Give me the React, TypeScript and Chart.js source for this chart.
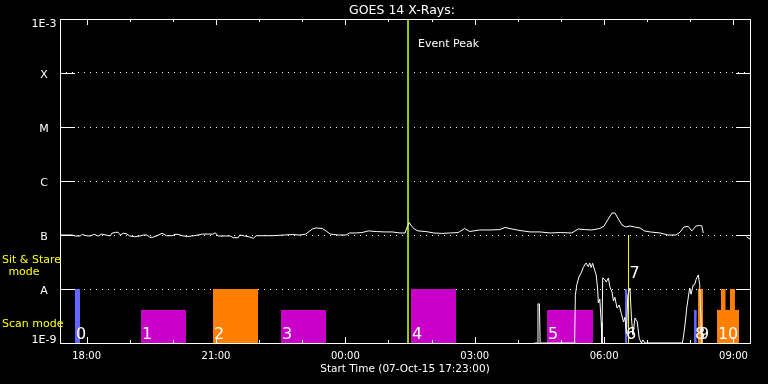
import React, { useEffect, useRef } from 'react';
import { Chart, registerables } from 'chart.js';

Chart.register(...registerables);

// ---------- text ----------
const CHART_TITLE = 'GOES 14 X-Rays:';
const X_AXIS_TITLE = 'Start Time (07-Oct-15 17:23:00)';
const EVENT_LABEL = 'Event Peak';
const STARE_TEXT = ['Sit & Stare', 'mode'];
const SCAN_TEXT = 'Scan mode';

// ---------- axes (x in minutes since 17:23) ----------
const X_MAX_MINUTES = 960;
const hourTickMinutes = [37, 97, 157, 217, 277, 337, 397, 457, 517, 577, 637, 697, 757, 817, 877, 937];
const hourTickLabels = ['18:00', '', '', '21:00', '', '', '00:00', '', '', '03:00', '', '', '06:00', '', '', '09:00'];
const yLevelValues = [1e-9, 1e-8, 1e-7, 1e-6, 1e-5, 1e-4, 1e-3];
const yLevelLabels = ['1E-9', 'A', 'B', 'C', 'M', 'X', '1E-3'];

// ---------- GOES flux curve ----------
const fluxTimes = [
  0, 17, 21, 28, 31, 36, 42, 47, 53, 58, 64, 70, 72, 77, 81, 84, 88, 92, 97, 104,
  111, 116, 121, 125, 129, 135, 142, 148, 156, 160, 164, 170, 178, 186, 192, 198, 206, 213, 216, 220,
  230, 237, 241, 248, 250, 257, 264, 269, 273, 281, 292, 301, 312, 323, 334, 342, 351, 356, 365, 370,
  376, 387, 398, 403, 412, 420, 429, 440, 451, 462, 473, 480, 483, 486, 488, 493, 498, 509, 520, 531,
  543, 554, 563, 570, 584, 598, 612, 619, 629, 640, 654, 668, 682, 696, 712, 721, 730, 740, 751, 757,
  762, 768, 772, 776, 782, 787, 793, 799, 807, 813, 821, 835, 846, 857, 863, 868, 874, 879, 885, 890,
  893, 895, 925, 955, 960,
];
const fluxValues = [
  1.0e-7, 1.0e-7, 9.58e-8, 9.58e-8, 1.03e-7, 9.7e-8, 9.58e-8, 1.03e-7, 9.58e-8, 1.04e-7, 1.0e-7, 9.58e-8, 1.075e-7, 1.12e-7, 1.12e-7, 1.0e-7, 1.075e-7, 1.066e-7, 9.58e-8, 9.3e-8,
  9.58e-8, 1.0e-7, 1.0e-7, 9.07e-8, 9.07e-8, 9.7e-8, 1.075e-7, 9.7e-8, 9.7e-8, 1.03e-7, 1.03e-7, 9.7e-8, 9.38e-8, 9.7e-8, 1.0e-7, 1.04e-7, 1.04e-7, 1.04e-7, 1.1e-7, 9.58e-8,
  9.58e-8, 9.58e-8, 8.91e-8, 8.91e-8, 1.0e-7, 9.58e-8, 9.18e-8, 8.68e-8, 9.7e-8, 9.7e-8, 9.7e-8, 9.8e-8, 1.0e-7, 1.02e-7, 1.0e-7, 1.04e-7, 1.29e-7, 1.35e-7, 1.32e-7, 1.19e-7,
  1.04e-7, 1.0e-7, 1.0e-7, 1.09e-7, 1.09e-7, 1.11e-7, 1.19e-7, 1.16e-7, 1.14e-7, 1.14e-7, 1.09e-7, 1.09e-7, 1.41e-7, 1.7e-7, 1.53e-7, 1.29e-7, 1.19e-7, 1.16e-7, 1.09e-7, 1.07e-7,
  1.09e-7, 1.11e-7, 1.32e-7, 1.16e-7, 1.24e-7, 1.24e-7, 1.26e-7, 1.38e-7, 1.29e-7, 1.21e-7, 1.14e-7, 1.14e-7, 1.09e-7, 1.11e-7, 1.09e-7, 1.29e-7, 1.26e-7, 1.24e-7, 1.32e-7, 1.47e-7,
  1.9e-7, 2.56e-7, 2.56e-7, 2.07e-7, 1.53e-7, 1.41e-7, 1.47e-7, 1.41e-7, 1.35e-7, 1.19e-7, 1.14e-7, 1.09e-7, 1.0e-7, 1.0e-7, 1.14e-7, 1.41e-7, 1.44e-7, 1.19e-7, 1.47e-7, 1.5e-7,
  1.47e-7, 1.09e-7, null, 9.3e-8, 8.4e-8,
];

// ---------- low-level trace ----------
const lowTimes = [
  660, 664, 665, 667, 668, 716, 717, 719, 722, 725, 728, 730, 732, 735, 737, 739, 741, 744, 746, 748,
  749, 751, 753, 754, 755, 758, 760, 763, 765, 768, 770, 772, 775, 778, 781, 784, 786, 788, 790, 793,
  795, 797, 800, 803, 806, 809, 811, 814, 866, 868, 870, 872, 874, 876, 878, 881, 883, 885, 888, 890,
  891, 893,
];
const lowValues = [
  1e-9, 1e-9, 5.3e-9, 5.3e-9, 1e-9, 1e-9, 7.7e-9, 1.2e-8, 1.67e-8, 1.98e-8, 2.5e-8, 2.78e-8, 3.03e-8, 2.6e-8, 3.03e-8, 2.5e-8, 3.0e-8, 2.2e-8, 1.82e-8, 1.0e-8,
  5.5e-9, 6.5e-9, 2.4e-9, 1e-9, 1.6e-8, 1.5e-8, 1.35e-8, 1.6e-8, 1.1e-8, 8.8e-9, 6.0e-9, 7.0e-9, 4.45e-9, 5.06e-9, 3.5e-9, 2.45e-9, 3.0e-9, 1.5e-9, 7.7e-9, 1.04e-8,
  3.0e-9, 1.4e-9, 2.9e-9, 2.5e-9, 1.2e-9, 1.0e-9, 1.14e-9, 1e-9, 1e-9, 1.5e-9, 2.45e-9, 4.5e-9, 6.8e-9, 1.04e-8, 8.0e-9, 1.19e-8, 1.2e-8, 1.5e-8, 1.82e-8, 1.2e-8,
  5.0e-9, 1e-9,
];

// ---------- observation blocks ----------
const STARE_LEVEL = 1e-8;
const SCAN_LEVEL = 4.1e-9;
const obsStart = [20.9, 112.7, 212.9, 307.5, 488.3, 677.6, 786.0, 882.0, 887.6, 914.0, 919.6, 932.0];
const obsEnd = [27.8, 175.3, 275.5, 370.1, 551.0, 741.6, 789.5, 886.0, 894.6, 944.7, 926.2, 939.0];
const obsKind = [0, 1, 2, 1, 1, 1, 0, 0, 2, 2, 2, 2];
const obsMode = ['stare', 'scan', 'stare', 'scan', 'stare', 'scan', 'stare', 'scan', 'stare', 'scan', 'stare', 'stare'];
const obsLabel = ['0', '1', '2', '3', '4', '5', '6', '8', '9', '10', '', ''];

const eventPeakTime = 484.2;
const markerTime = 791;
const markerTop = 1e-7;
const markerLabel = '7';

// ---------- styles ----------
const KIND_COLORS = ['#6464ff', '#c800c8', '#ff8000'];
const FONT = '"DejaVu Sans", sans-serif';

const overlayPlugin = {
  id: 'overlay',
  beforeDraw(chart: any) {
    const { ctx, width, height } = chart;
    ctx.save();
    ctx.fillStyle = '#000';
    ctx.fillRect(0, 0, width, height);
    ctx.restore();
  },
  afterDraw(chart: any) {
    const { ctx, chartArea: a } = chart;
    const xs = chart.scales.x;
    const ys = chart.scales.y;
    ctx.save();
    ctx.strokeStyle = '#fff';
    ctx.lineWidth = 1;
    ctx.strokeRect(a.left + 0.5, a.top + 0.5, a.right - a.left, a.bottom - a.top);
    ctx.beginPath();
    hourTickMinutes.forEach((t, i) => {
      const px = Math.round(xs.getPixelForValue(t)) + 0.5;
      const len = hourTickLabels[i] ? 6 : 3;
      ctx.moveTo(px, a.bottom);
      ctx.lineTo(px, a.bottom - len);
      ctx.moveTo(px, a.top);
      ctx.lineTo(px, a.top + len);
    });
    yLevelValues.forEach((v, i) => {
      if (i === 0 || i === yLevelValues.length - 1) return;
      const py = Math.round(ys.getPixelForValue(v)) + 0.5;
      ctx.moveTo(a.left, py);
      ctx.lineTo(a.left + 15, py);
      ctx.moveTo(a.right + 1, py);
      ctx.lineTo(a.right - 14, py);
    });
    ctx.stroke();

    ctx.fillStyle = '#fff';
    ctx.textBaseline = 'alphabetic';
    ctx.font = `12.5px ${FONT}`;
    ctx.textAlign = 'center';
    ctx.fillText(CHART_TITLE, (a.left + a.right) / 2 - 3, 14);
    ctx.font = `11px ${FONT}`;
    yLevelValues.forEach((v, i) => {
      const py = ys.getPixelForValue(v);
      const base = Math.min(Math.max(py + 5, a.top + 8), a.bottom);
      ctx.fillText(yLevelLabels[i], a.left - 16, base);
    });
    ctx.font = `10px ${FONT}`;
    hourTickMinutes.forEach((t, i) => {
      if (!hourTickLabels[i]) return;
      ctx.fillText(hourTickLabels[i], xs.getPixelForValue(t), a.bottom + 16);
    });
    ctx.font = `10.5px ${FONT}`;
    ctx.fillText(X_AXIS_TITLE, (a.left + a.right) / 2, a.bottom + 29);
    ctx.textAlign = 'left';
    ctx.font = `11px ${FONT}`;
    ctx.fillText(EVENT_LABEL, xs.getPixelForValue(eventPeakTime) + 10, a.top + 28);
    ctx.fillStyle = '#ffff00';
    ctx.fillText(STARE_TEXT[0], 2, ys.getPixelForValue(STARE_LEVEL) - 26);
    ctx.textAlign = 'center';
    ctx.fillText(STARE_TEXT[1], 24, ys.getPixelForValue(STARE_LEVEL) - 14);
    ctx.textAlign = 'left';
    ctx.fillText(SCAN_TEXT, 2, ys.getPixelForValue(SCAN_LEVEL) + 17);
    ctx.fillStyle = '#fff';
    ctx.font = `16px ${FONT}`;
    obsLabel.forEach((lab, i) => {
      if (!lab) return;
      ctx.fillText(lab, xs.getPixelForValue(obsStart[i]) + 1, a.bottom - 4);
    });
    ctx.fillText(markerLabel, xs.getPixelForValue(markerTime) + 1, ys.getPixelForValue(markerTop) + 43);
    ctx.restore();
  },
};

function buildConfig(): any {
  const fluxData = fluxTimes.map((t, i) => ({ x: t, y: fluxValues[i] }));
  const lowData = lowTimes.map((t, i) => ({ x: t, y: lowValues[i] }));
  const datasets: any[] = [
    { data: fluxData, borderColor: '#ffffff', borderWidth: 1, pointRadius: 0, tension: 0, fill: false, order: 0 },
    { data: lowData, borderColor: '#ffffff', borderWidth: 1, pointRadius: 0, tension: 0, fill: false, order: 0 },
    {
      data: [{ x: eventPeakTime, y: 1e-9 }, { x: eventPeakTime, y: 1e-3 }],
      borderColor: '#99cc00', borderWidth: 2, pointRadius: 0, fill: false, order: 1,
    },
    {
      data: [{ x: markerTime, y: 1e-9 }, { x: markerTime, y: markerTop }],
      borderColor: '#ffff00', borderWidth: 1, pointRadius: 0, fill: false, order: 1,
    },
  ];
  obsStart.forEach((s, i) => {
    const top = obsMode[i] === 'stare' ? STARE_LEVEL : SCAN_LEVEL;
    datasets.push({
      data: [{ x: s, y: top }, { x: obsEnd[i], y: top }],
      borderColor: 'rgba(0,0,0,0)', borderWidth: 0, pointRadius: 0,
      backgroundColor: KIND_COLORS[obsKind[i]], fill: 'start', order: 2,
    });
  });
  return {
    type: 'line',
    data: { datasets },
    options: {
      responsive: false,
      animation: false,
      devicePixelRatio: 1,
      layout: { padding: { top: 19, right: 18, left: 0, bottom: 0 } },
      plugins: { legend: { display: false }, tooltip: { enabled: false }, title: { display: false } },
      scales: {
        x: {
          type: 'linear', min: 0, max: X_MAX_MINUTES, position: 'bottom',
          ticks: { display: false }, grid: { display: false }, border: { display: false },
          afterFit: (s: any) => { s.height = 41; },
        },
        y: {
          type: 'logarithmic', min: 1e-9, max: 1e-3, position: 'left',
          ticks: { display: false },
          afterBuildTicks: (s: any) => { s.ticks = yLevelValues.map((v) => ({ value: v })); },
          grid: {
            drawTicks: false, lineWidth: 1,
            color: (c: any) => (c.index === 0 || c.index === yLevelValues.length - 1 ? 'rgba(0,0,0,0)' : '#ffffff'),
          },
          border: { display: false, dash: [1, 5] },
          afterFit: (s: any) => { s.width = 60; },
        },
      },
    },
    plugins: [overlayPlugin],
  };
}

export default function App() {
  const ref = useRef<HTMLCanvasElement>(null);
  useEffect(() => {
    document.body.style.margin = '0';
    document.body.style.background = '#000';
    const chart = new Chart(ref.current as HTMLCanvasElement, buildConfig());
    return () => chart.destroy();
  }, []);
  return (
    <div style={{ width: 768, height: 384, background: '#000' }}>
      <canvas ref={ref} width={768} height={384} style={{ display: 'block', width: 768, height: 384 }} />
    </div>
  );
}
